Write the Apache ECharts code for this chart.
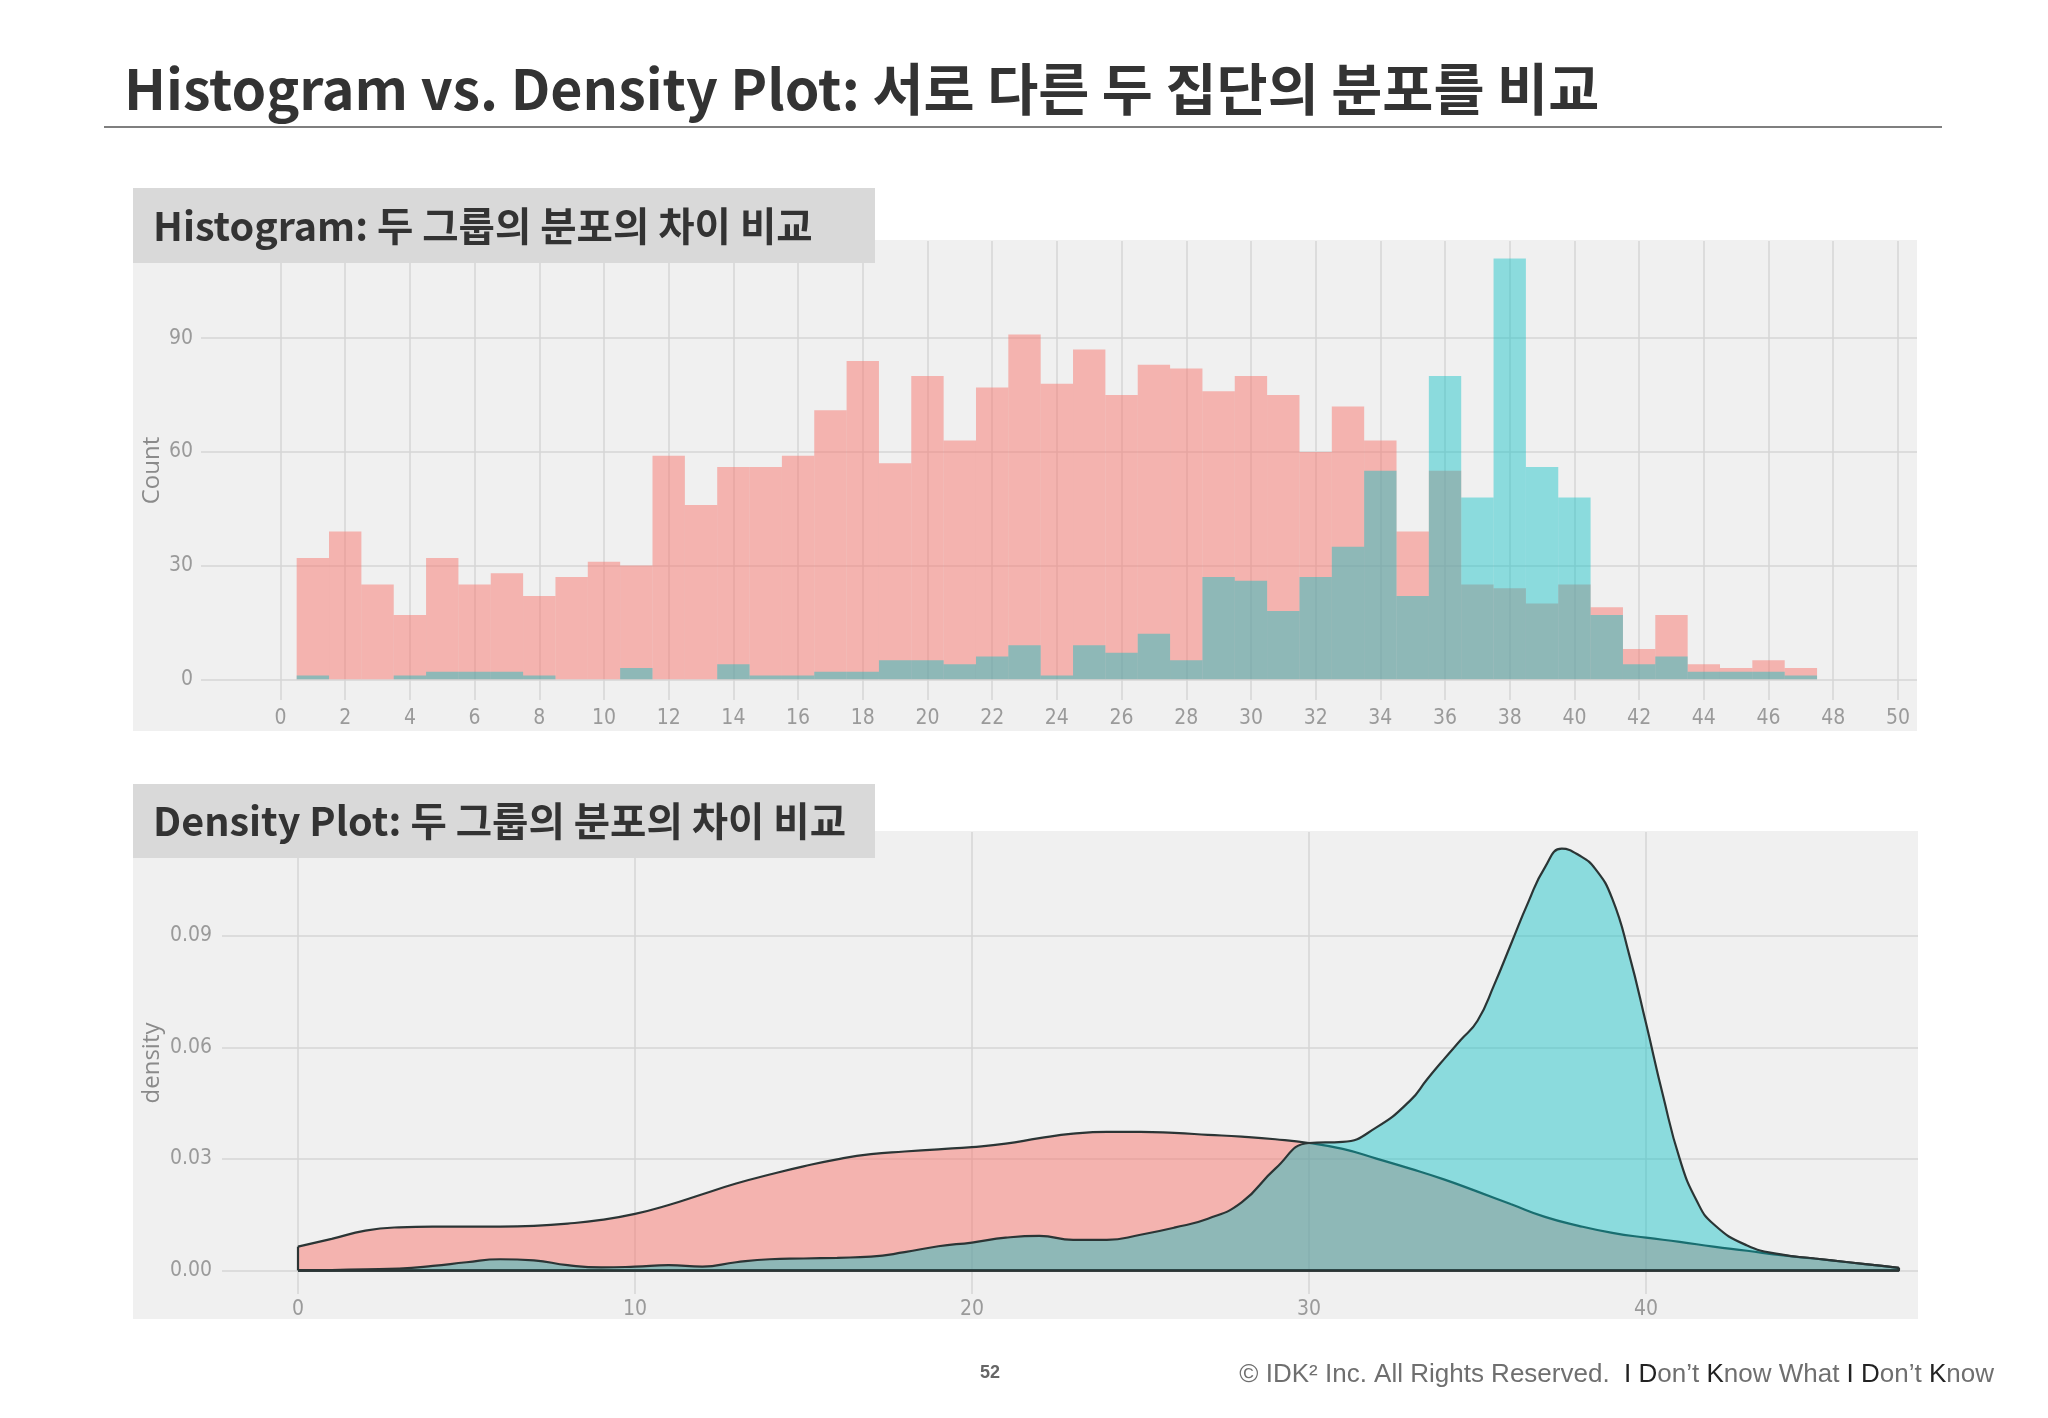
<!DOCTYPE html>
<html>
<head>
<meta charset="utf-8">
<script src="https://cdn.jsdelivr.net/npm/echarts@6/dist/echarts.min.js"></script>
<style>
html,body{margin:0;padding:0;background:#fff;}
#c{width:2048px;height:1418px;}
</style>
</head>
<body>
<div id="c"></div>
<script>
// ---------- DATA ----------
const titleText = 'Histogram vs. Density Plot: 서로 다른 두 집단의 분포를 비교';
const histHeader = 'Histogram: 두 그룹의 분포의 차이 비교';
const densHeader = 'Density Plot: 두 그룹의 분포의 차이 비교';

// histogram bins (centre of 1-wide bins)
const binCenters = [1,2,3,4,5,6,7,8,9,10,11,12,13,14,15,16,17,18,19,20,21,22,23,24,25,26,27,28,29,30,31,32,33,34,35,36,37,38,39,40,41,42,43,44,45,46,47];
const histRed  = [32,39,25,17,32,25,28,22,27,31,30,59,46,56,56,59,71,84,57,80,63,77,91,78,87,75,83,82,76,80,75,60,72,63,39,55,25,24,20,25,19,8,17,4,3,5,3];
const histTeal = [1,0,0,1,2,2,2,1,0,0,3,0,0,4,1,1,2,2,5,5,4,6,9,1,9,7,12,5,27,26,18,27,35,55,22,80,48,111,56,48,17,4,6,2,2,2,1];
const histYTicks = [0,30,60,90];

// density curves
const densRedX = [0,1,2,3,4,5,6,7,8,9,10,11,12,13,14,15,16,17,18,19,20,21,22,23,24,25,26,27,28,29,30,31,32,33,34,35,36,37,38,39,40,41,42,43,44,45,46,47,47.5];
const densRedY = [0.0064,0.0085,0.0107,0.0116,0.0118,0.0118,0.0118,0.0120,0.0126,0.0136,0.0152,0.0176,0.0205,0.0234,0.0258,0.0280,0.0299,0.0313,0.0320,0.0326,0.0332,0.0341,0.0356,0.0368,0.0373,0.0373,0.0370,0.0365,0.0360,0.0353,0.0343,0.0327,0.0301,0.0274,0.0245,0.0212,0.0178,0.0144,0.0120,0.0101,0.0088,0.0077,0.0064,0.0053,0.0041,0.0032,0.0022,0.0012,0.0007];
const densTealX = [0,1,2,3,4,5,6,7,8,9,10,11,12,13,14,15,16,17,18,19,20,21,22,23,24,25,26,27,28,29,30,31,32,33,33.5,34,34.5,35,35.5,36,36.5,37,37.5,38,38.5,39,39.5,40,40.5,41,41.5,42,43,44,45,46,47,47.5];
const densTealY = [0,0.0001,0.0003,0.0005,0.0012,0.0022,0.0030,0.0027,0.0014,0.0008,0.0010,0.0014,0.0010,0.0022,0.0030,0.0032,0.0034,0.0037,0.0049,0.0065,0.0075,0.0088,0.0093,0.0082,0.0082,0.0096,0.0115,0.0139,0.0183,0.0274,0.0343,0.0346,0.0385,0.0457,0.0514,0.0568,0.0620,0.0672,0.0770,0.0880,0.0990,0.1085,0.1135,0.1118,0.1080,0.1000,0.0850,0.0665,0.0472,0.0300,0.0188,0.0125,0.0067,0.0043,0.0032,0.0022,0.0012,0.0007];
const densYTicks = [0,0.03,0.06,0.09];

// ---------- STYLE ----------
const RED = 'rgba(248,118,109,0.5)';
const TEAL = 'rgba(0,191,196,0.42)';
const GRID_LINE = '#d6d6d6';
const LABEL = '#9a9a9a';
const LABEL_FONT = "'Liberation Sans Narrow','DejaVu Sans Condensed','Open Sans',sans-serif";
const KFONT = "'Noto Sans CJK KR','Noto Sans',sans-serif";
const OUT = '#2b3535';

const chart = echarts.init(document.getElementById('c'), null, {renderer:'canvas'});

function histRender(color){
  return function(params, api){
    const x = api.value(0), y = api.value(1);
    const p0 = api.coord([x - 0.5, y]);
    const p1 = api.coord([x + 0.5, 0]);
    return {type:'rect', shape:{x:p0[0], y:p0[1], width:p1[0]-p0[0], height:p1[1]-p0[1]}, style:{fill:color}};
  };
}

const hTop = 241, hBottom = 700, hRight = 1917;
const dTop = 832, dBottom = 1294, dRight = 1918;

const option = {
  backgroundColor:'#ffffff',
  animation:false,
  graphic:[
    {type:'text', x:124, y:89, z:100, style:{text:titleText, font:"bold 55.5px "+KFONT, fill:'#333333', textVerticalAlign:'middle'}},
    {type:'rect', shape:{x:104, y:126, width:1838, height:2}, style:{fill:'#7f7f7f'}, z:100},
    {type:'rect', shape:{x:133, y:240, width:1784, height:491}, style:{fill:'#f0f0f0'}, z:-10},
    {type:'rect', shape:{x:133, y:831, width:1785, height:488}, style:{fill:'#f0f0f0'}, z:-10},
    {type:'rect', shape:{x:133, y:188, width:742, height:75}, style:{fill:'#d9d9d9'}, z:100},
    {type:'text', x:153, y:226, z:101, style:{text:histHeader, font:"bold 39.5px "+KFONT, fill:'#333333', textVerticalAlign:'middle'}},
    {type:'rect', shape:{x:133, y:784, width:742, height:74}, style:{fill:'#d9d9d9'}, z:100},
    {type:'text', x:153, y:821, z:101, style:{text:densHeader, font:"bold 39.5px "+KFONT, fill:'#333333', textVerticalAlign:'middle'}},
    {type:'text', x:990, y:1373, z:100, style:{text:'52', font:"bold 18px 'Liberation Sans',Arial,sans-serif", fill:'#666666', textAlign:'center', textVerticalAlign:'middle'}},
    {type:'text', x:1994, y:1375, z:100, style:{
      text:'{g|© IDK² Inc. All Rights Reserved.  }{d|I D}{g|on’t }{d|K}{g|now What }{d|I D}{g|on’t }{d|K}{g|now}',
      textAlign:'right', textVerticalAlign:'middle',
      rich:{
        g:{font:"26px 'Liberation Sans',Arial,sans-serif", fill:'#6f6f6f'},
        d:{font:"26px 'Liberation Sans',Arial,sans-serif", fill:'#222222'}
      }}}
  ],
  grid:[
    {left:201, top:hTop, width:hRight-201, height:hBottom-hTop},
    {left:280.5, top:hTop, width:hRight-280.5, height:hBottom-hTop},
    {left:222, top:dTop, width:dRight-222, height:dBottom-dTop},
    {left:298, top:dTop, width:dRight-298, height:dBottom-dTop}
  ],
  xAxis:[
    {gridIndex:0, type:'value', show:false, min:0, max:1},
    {gridIndex:1, type:'value', min:0, max:50.59, interval:2,
      axisLine:{show:false}, axisTick:{show:false},
      axisLabel:{color:LABEL, fontSize:21, fontFamily:LABEL_FONT, margin:8, showMaxLabel:false},
      splitLine:{show:true, showMaxLine:false, lineStyle:{color:GRID_LINE, width:1.5}}},
    {gridIndex:2, type:'value', show:false, min:0, max:1},
    {gridIndex:3, type:'value', min:0, max:48.07, interval:10,
      axisLine:{show:false}, axisTick:{show:false},
      axisLabel:{color:LABEL, fontSize:21, fontFamily:LABEL_FONT, margin:5, showMaxLabel:false},
      splitLine:{show:true, showMaxLine:false, lineStyle:{color:GRID_LINE, width:1.5}}}
  ],
  yAxis:[
    {gridIndex:0, type:'value', min:-5.46, max:115.65, splitNumber:4,
      axisLine:{show:false}, axisTick:{show:false},
      axisLabel:{color:LABEL, fontSize:21, fontFamily:LABEL_FONT, margin:8, showMinLabel:false, showMaxLabel:false,
        formatter:function(v){ return histYTicks.indexOf(v) >= 0 ? String(v) : ''; }},
      splitLine:{show:true, showMinLine:false, showMaxLine:false, lineStyle:{color:GRID_LINE, width:1.5}},
      name:'Count', nameLocation:'middle', nameGap:37, nameMoveOverlap:false,
      nameTextStyle:{color:'#8a8a8a', fontSize:24, fontFamily:"'Open Sans',sans-serif"}},
    {gridIndex:1, type:'value', show:false, min:-5.46, max:115.65, splitNumber:4, splitLine:{show:false}},
    {gridIndex:2, type:'value', min:-0.00635, max:0.1180, splitNumber:4,
      axisLine:{show:false}, axisTick:{show:false},
      axisLabel:{color:LABEL, fontSize:21, fontFamily:LABEL_FONT, margin:10, showMinLabel:false, showMaxLabel:false,
        formatter:function(v){ for (const t of densYTicks){ if (Math.abs(v-t) < 1e-9) return t.toFixed(2);} return ''; }},
      splitLine:{show:true, showMinLine:false, showMaxLine:false, lineStyle:{color:GRID_LINE, width:1.5}},
      name:'density', nameLocation:'middle', nameGap:58, nameMoveOverlap:false,
      nameTextStyle:{color:'#8a8a8a', fontSize:24, fontFamily:"'Open Sans',sans-serif"}},
    {gridIndex:3, type:'value', show:false, min:-0.00635, max:0.1180, splitNumber:4, splitLine:{show:false}}
  ],
  series:[
    {type:'custom', name:'A', xAxisIndex:1, yAxisIndex:1, encode:{x:0,y:1},
      data: binCenters.map((b,i)=>[b, histRed[i]]), renderItem: histRender(RED), z:2},
    {type:'custom', name:'B', xAxisIndex:1, yAxisIndex:1, encode:{x:0,y:1},
      data: binCenters.map((b,i)=>[b, histTeal[i]]), renderItem: histRender(TEAL), z:3},

    {type:'line', name:'dA', xAxisIndex:3, yAxisIndex:3, showSymbol:false, symbol:'none',
      smooth:0.5,
      data: densRedX.map((x,i)=>[x, densRedY[i]]),
      lineStyle:{color:OUT, width:2.2}, areaStyle:{color:RED, opacity:1, origin:'auto'}, z:2},
    {type:'line', xAxisIndex:3, yAxisIndex:3, showSymbol:false, symbol:'none',
      data: [[densRedX[0],0],[densRedX[0],densRedY[0]]], lineStyle:{color:OUT, width:2.2}, z:2},
    {type:'line', xAxisIndex:3, yAxisIndex:3, showSymbol:false, symbol:'none',
      data: [[densRedX[0],0],[densRedX[densRedX.length-1],0],[densRedX[densRedX.length-1],densRedY[densRedY.length-1]]], lineStyle:{color:OUT, width:2.5}, z:2},

    {type:'line', name:'dB', xAxisIndex:3, yAxisIndex:3, showSymbol:false, symbol:'none',
      smooth:0.5,
      data: densTealX.map((x,i)=>[x, densTealY[i]]),
      lineStyle:{color:OUT, width:2.2}, areaStyle:{color:TEAL, opacity:1, origin:'auto'}, z:3},
    {type:'line', xAxisIndex:3, yAxisIndex:3, showSymbol:false, symbol:'none',
      data: [[densTealX[0],0],[densTealX[densTealX.length-1],0],[densTealX[densTealX.length-1],densTealY[densTealY.length-1]]], lineStyle:{color:OUT, width:2.5}, z:3}
  ]
};
chart.setOption(option);
</script>
</body>
</html>
